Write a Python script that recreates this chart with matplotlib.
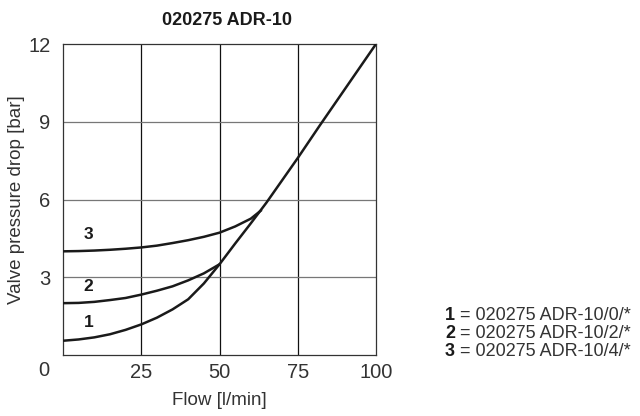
import matplotlib.pyplot as plt
import numpy as np

plt.rcParams['font.family'] = ['Liberation Sans', 'DejaVu Sans']

# curves (flow l/min, pressure drop bar)
flow_1 = [0, 5, 10, 15, 20, 25, 30, 35, 40, 45, 50, 55, 60, 65, 75, 82, 100]
dp_1 = [0.55, 0.6, 0.68, 0.8, 0.97, 1.18, 1.44, 1.76, 2.15, 2.76, 3.5, 4.3, 5.08, 5.88, 7.6, 8.85, 12.0]

flow_2 = [0, 5, 10, 15, 20, 25, 30, 35, 40, 45, 50]
dp_2 = [2.0, 2.01, 2.05, 2.12, 2.2, 2.33, 2.48, 2.65, 2.88, 3.15, 3.5]

flow_3 = [0, 5, 10, 15, 20, 25, 30, 35, 40, 45, 50, 55, 60, 63.5]
dp_3 = [4.0, 4.01, 4.03, 4.06, 4.1, 4.15, 4.22, 4.32, 4.43, 4.56, 4.72, 4.96, 5.26, 5.6]

curve_labels = ['1', '2', '3']
label_pos = [(8.2, 1.26), (8.2, 2.65), (8.2, 4.64)]
legend_names = ['020275 ADR-10/0/*', '020275 ADR-10/2/*', '020275 ADR-10/4/*']

xticks = [25, 50, 75, 100]
yticks = [3, 6, 9, 12]

fig = plt.figure(figsize=(6.4, 4.16), dpi=100)
ax = fig.add_axes([63 / 640, 1 - 355 / 416, 313 / 640, 311 / 416])

txt = '#333333'
for x in xticks[:-1]:
    ax.axvline(x, color='#111111', lw=0.9, zorder=1)
for y in yticks[:-1]:
    ax.axhline(y, color='#777777', lw=0.9, zorder=1)

for fx, fy in [(flow_1, dp_1), (flow_2, dp_2), (flow_3, dp_3)]:
    ax.plot(fx, fy, color='#1a1a1a', lw=1.8, zorder=3, solid_capstyle='butt')

for lab, (lx, ly) in zip(curve_labels, label_pos):
    ax.text(lx, ly, lab, fontsize=12.5, fontweight='bold', ha='center', va='center', color='#1a1a1a')

ax.set_xlim(0, 100)
ax.set_ylim(0, 12)
ax.set_xticks(xticks)
ax.set_yticks(yticks)
ax.tick_params(length=0, labelsize=14.5, labelcolor=txt, pad=6)
ax.tick_params(axis='y', pad=9)
for s in ax.spines.values():
    s.set_color('#333333')
    s.set_linewidth(0.9)

ax.text(-6, -0.58, '0', fontsize=14.5, color=txt, ha='center', va='center')
ax.set_xlabel('Flow [l/min]', fontsize=13.5, color=txt, labelpad=7)
ax.set_ylabel('Valve pressure drop [bar]', fontsize=13.5, color=txt)
ax.yaxis.set_label_coords(-0.122, 0.5)
ax.set_title('020275 ADR-10', fontsize=13, fontweight='bold', color='#1a1a1a', pad=14, x=0.525)

for i, name in enumerate(legend_names):
    y = 1 - (315 + 18.3 * i) / 416
    fig.text(445 / 640, y, curve_labels[i], fontsize=13, fontweight='bold', color='#1a1a1a', va='center')
    fig.text(460 / 640, y, '= ' + name, fontsize=13, color=txt, va='center')

fig.savefig('out.png', dpi=100)
